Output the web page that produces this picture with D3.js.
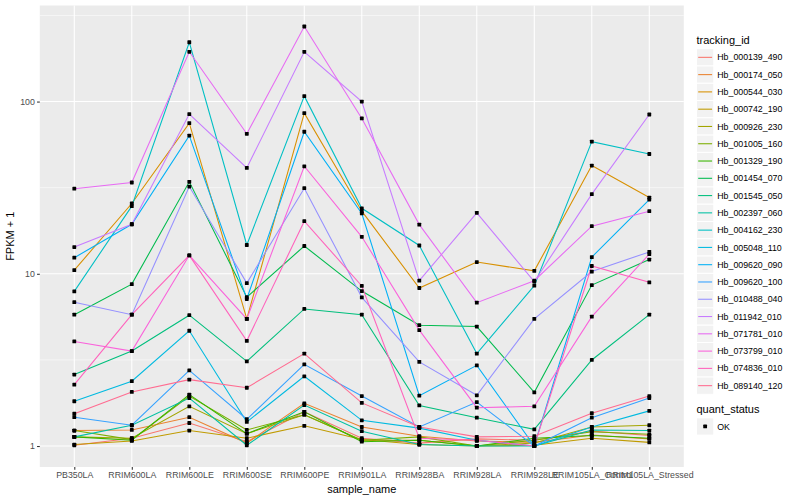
<!DOCTYPE html>
<html>
<head>
<meta charset="utf-8">
<script src="https://cdn.jsdelivr.net/npm/d3@7/dist/d3.min.js"></script>
<style>
  body { margin: 0; background: #fff; }
  svg { display: block; font-family: "Liberation Sans", Arial, Helvetica, sans-serif; }
</style>
</head>
<body>
<div id="chart"></div>
<script>
// samples on the x axis
const samples = ["PB350LA", "RRIM600LA", "RRIM600LE", "RRIM600SE", "RRIM600PE", "RRIM901LA",
    "RRIM928BA", "RRIM928LA", "RRIM928LE", "RRIM105LA_Control", "RRIM105LA_Stressed"];

const trackingIds = ["Hb_000139_490", "Hb_000174_050", "Hb_000544_030", "Hb_000742_190", "Hb_000926_230",
    "Hb_001005_160", "Hb_001329_190", "Hb_001454_070", "Hb_001545_050", "Hb_002397_060",
    "Hb_004162_230", "Hb_005048_110", "Hb_009620_090", "Hb_009620_100", "Hb_010488_040",
    "Hb_011942_010", "Hb_071781_010", "Hb_073799_010", "Hb_074836_010", "Hb_089140_120"];

// FPKM + 1, one value per sample
const hb_000139_490 = [1.01, 1.11, 1.36, 1.06, 1.58, 1.11, 1.04, 1.10, 1.08, 1.22, 1.15];
const hb_000174_050 = [1.23, 1.24, 1.47, 1.04, 1.77, 1.29, 1.14, 1.07, 1.05, 1.16, 1.10];
const hb_000544_030 = [10.5, 25.6, 75.0, 5.47, 85.7, 23.1, 8.27, 11.7, 10.4, 42.5, 27.7];
const hb_000742_190 = [1.02, 1.07, 1.23, 1.11, 1.31, 1.09, 1.02, 1.00, 1.01, 1.11, 1.05];
const hb_000926_230 = [1.13, 1.11, 1.70, 1.18, 1.52, 1.08, 1.08, 1.00, 1.04, 1.29, 1.32];
const hb_001005_160 = [1.23, 1.09, 1.95, 1.24, 1.52, 1.08, 1.13, 1.00, 1.08, 1.21, 1.17];
const hb_001329_190 = [1.13, 1.08, 1.99, 1.18, 1.58, 1.06, 1.08, 1.00, 1.11, 1.15, 1.11];
const hb_001454_070 = [5.79, 8.71, 34.2, 7.31, 14.5, 7.94, 5.03, 4.94, 2.05, 8.60, 12.1];
const hb_001545_050 = [2.60, 3.56, 5.75, 3.10, 6.25, 5.79, 1.72, 1.46, 1.25, 3.16, 5.79];
const hb_002397_060 = [1.13, 1.32, 1.90, 1.01, 1.73, 1.22, 1.02, 1.00, 1.00, 1.24, 1.23];
const hb_004162_230 = [7.91, 24.7, 221, 14.7, 107.5, 24.0, 14.6, 3.44, 8.53, 58.5, 49.6];
const hb_005048_110 = [1.82, 2.38, 4.67, 1.38, 2.54, 1.41, 1.27, 1.08, 1.00, 1.29, 1.60];
const hb_009620_090 = [12.4, 19.4, 63.4, 7.14, 66.8, 22.4, 1.96, 2.94, 1.00, 12.5, 27.0];
const hb_009620_100 = [1.47, 1.32, 2.75, 1.43, 2.98, 1.95, 1.29, 1.80, 1.00, 1.46, 1.90];
const hb_010488_040 = [6.84, 5.79, 32.1, 8.83, 31.4, 7.30, 3.08, 1.97, 5.47, 10.3, 13.4];
const hb_011942_010 = [14.3, 19.4, 84.6, 41.2, 194.5, 100, 9.12, 22.6, 9.00, 29.0, 84.1];
const hb_071781_010 = [31.2, 33.9, 194.5, 65.0, 272.9, 79.8, 19.3, 6.80, 9.12, 18.9, 23.1];
const hb_073799_010 = [4.05, 3.56, 12.8, 5.47, 42.1, 16.4, 4.71, 1.67, 1.70, 5.64, 13.0];
const hb_074836_010 = [2.27, 5.79, 12.8, 4.08, 20.2, 8.50, 1.11, 1.08, 1.00, 11.1, 8.92];
const hb_089140_120 = [1.54, 2.06, 2.43, 2.18, 3.44, 1.78, 1.29, 1.13, 1.14, 1.55, 1.95];

const quantStatus = ["OK"];
const yTicks = [1, 10, 100];

// ggplot hue palette, 20 levels
const palette = ["#F8766D", "#EA8331", "#D89000", "#C09B00", "#A3A500", "#7CAE00", "#39B600", "#00BB4E",
    "#00BF7D", "#00C1A3", "#00BFC4", "#00BAE0", "#00B0F6", "#35A2FF", "#9590FF", "#C77CFF",
    "#E76BF3", "#FA62DB", "#FF62BC", "#FF6C91"];

const seriesValues = [hb_000139_490, hb_000174_050, hb_000544_030, hb_000742_190, hb_000926_230,
    hb_001005_160, hb_001329_190, hb_001454_070, hb_001545_050, hb_002397_060,
    hb_004162_230, hb_005048_110, hb_009620_090, hb_009620_100, hb_010488_040,
    hb_011942_010, hb_071781_010, hb_073799_010, hb_074836_010, hb_089140_120];

const series = trackingIds.map((id, i) => ({ id: id, values: seriesValues[i] }));

const W = 800, H = 500;
const panel = { left: 39.8, right: 683.8, top: 5.5, bottom: 467 };

const svg = d3.select("#chart").append("svg")
    .attr("width", W)
    .attr("height", H);

svg.append("rect").attr("width", W).attr("height", H).attr("fill", "#fff");

// scales
const x = d3.scalePoint()
    .domain(samples)
    .range([panel.left, panel.right])
    .padding(0.6);

const allVals = series.flatMap(s => s.values);
const lo = Math.log10(d3.min(allVals)), hi = Math.log10(d3.max(allVals));
const pad = (hi - lo) * 0.05;
const y = d3.scaleLog()
    .domain([Math.pow(10, lo - pad), Math.pow(10, hi + pad)])
    .range([panel.bottom, panel.top]);

const color = d3.scaleOrdinal().domain(trackingIds).range(palette);

// panel background + grid
svg.append("rect")
    .attr("x", panel.left).attr("y", panel.top)
    .attr("width", panel.right - panel.left)
    .attr("height", panel.bottom - panel.top)
    .attr("fill", "#EBEBEB");

const minorTicks = yTicks.map(t => t * Math.sqrt(10))
    .concat([Math.sqrt(10) / 10])
    .filter(t => y(t) >= panel.top && y(t) <= panel.bottom);

svg.append("g").selectAll("line.minor")
    .data(minorTicks)
    .enter().append("line")
    .attr("x1", panel.left).attr("x2", panel.right)
    .attr("y1", d => y(d)).attr("y2", d => y(d))
    .attr("stroke", "#fff").attr("stroke-width", 0.53);

svg.append("g").selectAll("line.major")
    .data(yTicks)
    .enter().append("line")
    .attr("x1", panel.left).attr("x2", panel.right)
    .attr("y1", d => y(d)).attr("y2", d => y(d))
    .attr("stroke", "#fff").attr("stroke-width", 1.07);

svg.append("g").selectAll("line.vx")
    .data(samples)
    .enter().append("line")
    .attr("x1", d => x(d)).attr("x2", d => x(d))
    .attr("y1", panel.top).attr("y2", panel.bottom)
    .attr("stroke", "#fff").attr("stroke-width", 1.07);

// lines
const line = d3.line()
    .x((d, i) => x(samples[i]))
    .y(d => y(d));

svg.append("g").selectAll("path")
    .data(series)
    .enter().append("path")
    .attr("d", d => line(d.values))
    .attr("fill", "none")
    .attr("stroke", d => color(d.id))
    .attr("stroke-width", 1.07);

// points on top
const pts = series.flatMap(s => s.values.map((v, i) => ({ sample: samples[i], v: v })));
svg.append("g").selectAll("rect")
    .data(pts)
    .enter().append("rect")
    .attr("x", d => x(d.sample) - 1.9)
    .attr("y", d => y(d.v) - 1.9)
    .attr("width", 3.8).attr("height", 3.8)
    .attr("rx", 0.6)
    .attr("fill", "#000");

// axes
const yAxis = svg.append("g")
    .attr("transform", `translate(${panel.left},0)`)
    .call(d3.axisLeft(y).tickValues(yTicks).tickFormat(d3.format("d")).tickSize(2.75).tickPadding(2.2));

const xAxis = svg.append("g")
    .attr("transform", `translate(0,${panel.bottom})`)
    .call(d3.axisBottom(x).tickSize(2.75).tickPadding(2.2));

[yAxis, xAxis].forEach(g => {
    g.select(".domain").remove();
    g.selectAll(".tick line").attr("stroke", "#333").attr("stroke-width", 1.07);
    g.selectAll(".tick text").attr("fill", "#4D4D4D").style("font-size", "8.8px");
});

// axis titles
svg.append("text")
    .attr("x", (panel.left + panel.right) / 2)
    .attr("y", 493)
    .attr("text-anchor", "middle")
    .style("font-size", "11px")
    .attr("fill", "#000")
    .text("sample_name");

svg.append("text")
    .attr("transform", `translate(14,${(panel.top + panel.bottom) / 2}) rotate(-90)`)
    .attr("text-anchor", "middle")
    .style("font-size", "11px")
    .attr("fill", "#000")
    .text("FPKM + 1");

// legend: tracking_id
const legX = 696.5, keySize = 17.28, key0 = 48.7;
const leg = svg.append("g");
leg.append("text")
    .attr("x", legX).attr("y", 43.5)
    .style("font-size", "11px")
    .text("tracking_id");

const items = leg.selectAll("g.item")
    .data(trackingIds)
    .enter().append("g")
    .attr("transform", (d, i) => `translate(${legX},${key0 + i * keySize})`);

items.append("rect")
    .attr("width", keySize).attr("height", keySize)
    .attr("fill", "#F2F2F2").attr("stroke", "#fff").attr("stroke-width", 1);

items.append("line")
    .attr("x1", 1.7).attr("x2", keySize - 1.7)
    .attr("y1", keySize / 2).attr("y2", keySize / 2)
    .attr("stroke", d => color(d)).attr("stroke-width", 1.07);

items.append("text")
    .attr("x", keySize + 3.5).attr("y", keySize / 2 + 3.1)
    .style("font-size", "8.8px")
    .text(d => d);

// legend: quant_status
const leg2 = svg.append("g");
leg2.append("text")
    .attr("x", legX).attr("y", 413)
    .style("font-size", "11px")
    .text("quant_status");

const items2 = leg2.selectAll("g.item")
    .data(quantStatus)
    .enter().append("g")
    .attr("transform", (d, i) => `translate(${legX},${417.8 + i * keySize})`);

items2.append("rect")
    .attr("width", keySize).attr("height", keySize)
    .attr("fill", "#F2F2F2").attr("stroke", "#fff").attr("stroke-width", 1);

items2.append("rect")
    .attr("x", keySize / 2 - 1.9).attr("y", keySize / 2 - 1.9)
    .attr("width", 3.8).attr("height", 3.8).attr("rx", 0.6)
    .attr("fill", "#000");

items2.append("text")
    .attr("x", keySize + 3.5).attr("y", keySize / 2 + 3.1)
    .style("font-size", "8.8px")
    .text(d => d);
</script>
</body>
</html>
